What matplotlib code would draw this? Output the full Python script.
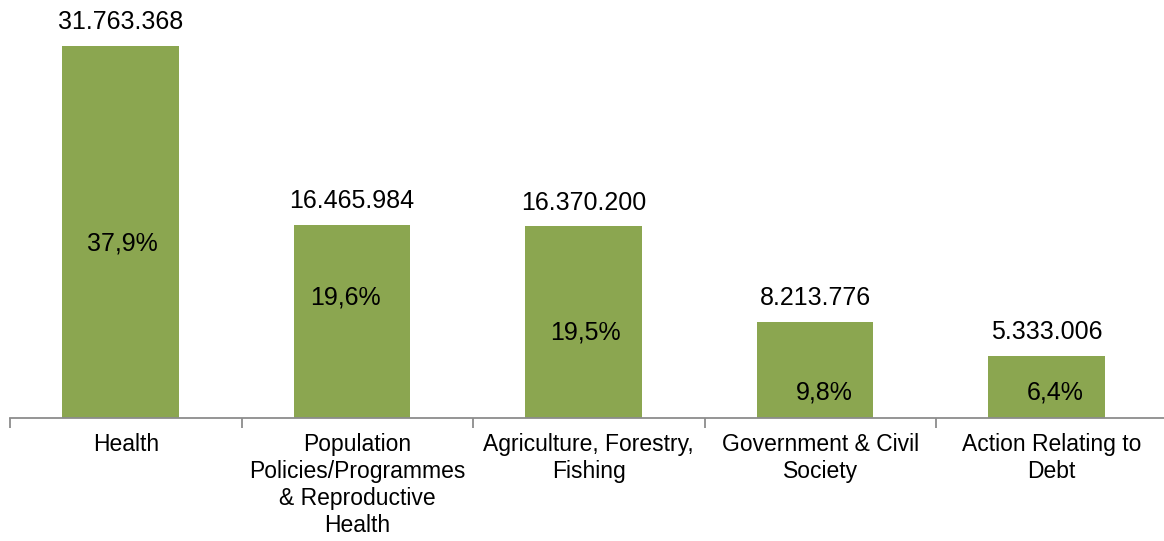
import matplotlib.pyplot as plt

plt.rcParams['font.family'] = ['Liberation Sans', 'DejaVu Sans']

categories = ['Health',
              'Population\nPolicies/Programmes\n& Reproductive\nHealth',
              'Agriculture, Forestry,\nFishing',
              'Government & Civil\nSociety',
              'Action Relating to\nDebt']
amounts = [31763368, 16465984, 16370200, 8213776, 5333006]
shares = ['37,9%', '19,6%', '19,5%', '9,8%', '6,4%']

# where the share labels sit inside the bars (x offset from category, y in data units)
share_dx = [-0.016, -0.049, -0.016, 0.019, 0.017]
share_y = [14.9e6, 10.3e6, 7.28e6, 2.14e6, 2.14e6]

bar_color = '#8BA650'
axis_color = '#8C8C8C'

fig = plt.figure(figsize=(11.64, 5.41), dpi=100)
ax = fig.add_axes([10 / 1164, 123 / 541, 1157.5 / 1164, 372 / 541])

x = list(range(len(categories)))
bar_x = [i - 0.022 for i in x]
ax.bar(bar_x, amounts, width=0.504, color=bar_color, zorder=2)

for i, v in enumerate(amounts):
    label = f'{v:,}'.replace(',', '.')
    ax.annotate(label, (bar_x[i], v), xytext=(0, 12), textcoords='offset points',
                ha='center', va='baseline', fontsize=18, annotation_clip=False)
    ax.text(i + share_dx[i], share_y[i], shares[i], ha='center', va='center',
            fontsize=18)

ax.set_xlim(-0.5, len(categories) - 0.5)
ax.set_ylim(0, max(amounts))

for side in ['top', 'right', 'left']:
    ax.spines[side].set_visible(False)
ax.spines['bottom'].set_color(axis_color)
ax.spines['bottom'].set_linewidth(1.3)
ax.set_yticks([])

# tick marks sit between categories, labels at category centres
ax.set_xticks([i - 0.5 for i in range(len(categories) + 1)])
ax.set_xticklabels([])
ax.tick_params(axis='x', which='major', length=7, width=1.3, color=axis_color)
ax.set_xticks(x, minor=True)
ax.set_xticklabels(categories, minor=True, fontsize=16.5, linespacing=1.22)
ax.tick_params(axis='x', which='minor', length=0, pad=11)

fig.savefig('out.png', dpi=100)
